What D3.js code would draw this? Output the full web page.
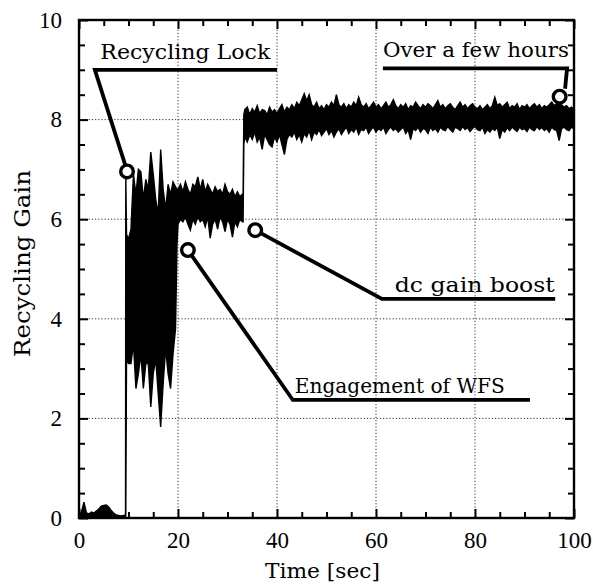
<!DOCTYPE html>
<html><head><meta charset="utf-8">
<script src="https://cdn.jsdelivr.net/npm/d3@7/dist/d3.min.js"></script>
<style>html,body{margin:0;padding:0;background:#fff;}svg{display:block;}</style>
</head><body>
<svg id="chart" width="593" height="586"></svg>
<script>
// ---- data ----
const xMajorTicks = [0, 20, 40, 60, 80, 100];
const yMajorTicks = [0, 2, 4, 6, 8, 10];
const xMinorTicks = [5,10,15,25,30,35,45,50,55,65,70,75,85,90,95];
const yMinorTicks = [0.5,1,1.5,2.5,3,3.5,4.5,5,5.5,6.5,7,7.5,8.5,9,9.5];
const xLabel = "Time [sec]";
const yLabel = "Recycling Gain";

// time samples [sec]
const timeSec = [
  0,0.5,1,1.5,2,2.5,3,3.5,4,4.5,5,5.5,6,6.5,7,7.5,8,8.5,9,9.4,
  9.45,9.6,10,10.5,11,11.5,12,12.5,13,13.5,14,14.5,15,15.5,16,16.5,17,17.5,18,18.5,19,19.5,19.8,
  20,20.5,21,21.5,22,22.5,23,23.5,24,24.5,25,25.5,26,26.5,27,27.5,28,28.5,29,29.5,30,30.5,31,31.5,32,32.5,33,33.15,33.3,
  33.5,34,34.5,35,35.5,36,36.5,37,37.5,38,38.5,39,39.5,40,40.5,41,41.5,42,42.5,43,43.5,44,44.5,45,45.5,46,46.5,47,47.5,48,48.5,49,49.5,
  50,50.5,51,51.5,52,52.5,53,53.5,54,54.5,55,55.5,56,56.5,57,57.5,58,58.5,59,59.5,60,60.5,61,61.5,62,62.5,63,63.5,64,64.5,65,65.5,66,66.5,
  67,67.5,68,68.5,69,69.5,70,70.5,71,71.5,72,72.5,73,73.5,74,74.5,75,75.5,76,76.5,77,77.5,78,78.5,79,79.5,80,80.5,81,81.5,82,82.5,83,83.5,
  84,84.5,85,85.5,86,86.5,87,87.5,88,88.5,89,89.5,90,90.5,91,91.5,92,92.5,93,93.5,94,94.5,95,95.5,96,96.5,97,97.5,98,98.5,99,99.5,100
];
// upper envelope of the recycling gain trace
const gainHigh = [
  0.05,0.12,0.32,0.10,0.08,0.12,0.10,0.14,0.18,0.24,0.25,0.26,0.22,0.15,0.10,0.06,0.05,0.04,0.05,0.06,
  6.90,5.70,5.60,5.80,6.90,6.50,7.00,6.95,6.40,6.80,6.60,7.35,6.90,6.40,6.10,7.40,6.60,6.20,6.70,6.50,6.75,6.65,6.60,
  6.60,6.70,6.55,6.75,6.60,6.50,6.70,6.65,6.85,6.60,6.80,6.55,6.70,6.60,6.50,6.65,6.55,6.60,6.50,6.70,6.55,6.50,6.60,6.45,6.55,6.45,6.50,6.50,8.10,
  8.20,8.25,8.10,8.22,8.15,8.28,8.12,8.20,8.18,8.10,8.25,8.15,8.20,8.12,8.22,8.30,8.15,8.25,8.20,8.30,8.22,8.35,8.28,8.40,8.52,8.38,8.50,8.30,8.25,8.35,8.22,8.28,8.20,
  8.30,8.25,8.35,8.28,8.50,8.30,8.25,8.32,8.22,8.30,8.25,8.35,8.28,8.45,8.30,8.25,8.32,8.22,8.28,8.35,8.25,8.30,8.22,8.28,8.35,8.25,8.30,8.40,8.28,8.22,8.30,8.25,8.32,8.20,
  8.28,8.25,8.35,8.28,8.22,8.30,8.25,8.32,8.28,8.22,8.30,8.38,8.25,8.30,8.22,8.28,8.32,8.25,8.20,8.28,8.35,8.25,8.30,8.22,8.28,8.32,8.25,8.22,8.28,8.20,8.25,8.30,8.22,8.28,
  8.45,8.28,8.32,8.25,8.30,8.35,8.22,8.28,8.25,8.32,8.20,8.28,8.25,8.30,8.22,8.28,8.32,8.25,8.30,8.22,8.28,8.25,8.30,8.35,8.28,8.32,8.40,8.30,8.25,8.28,8.22,8.25,8.20
];
// lower envelope of the recycling gain trace
const gainLow = [
  0,0,0,0,0,0,0,0,0,0,0,0,0,0,0,0,0,0,0,0,
  0,3.20,3.10,3.10,3.50,2.60,2.90,3.30,2.60,3.10,3.10,2.23,2.90,3.20,2.50,1.83,2.70,3.40,2.90,2.60,3.30,3.80,5.50,
  5.90,6.00,5.95,6.05,5.90,5.78,6.00,5.90,6.05,5.95,6.00,5.85,6.05,5.62,5.90,6.00,5.80,6.05,5.95,5.75,6.00,5.90,5.64,5.95,5.85,6.00,5.95,5.95,7.50,
  7.65,7.55,7.70,7.60,7.75,7.55,7.65,7.40,7.70,7.60,7.50,7.45,7.65,7.55,7.70,7.50,7.30,7.60,7.70,7.65,7.75,7.60,7.70,7.55,7.72,7.65,7.78,7.60,7.75,7.70,7.80,7.68,7.75,
  7.82,7.70,7.78,7.65,7.75,7.82,7.70,7.78,7.85,7.72,7.80,7.75,7.85,7.70,7.80,7.78,7.85,7.72,7.80,7.85,7.75,7.82,7.78,7.85,7.72,7.80,7.85,7.78,7.82,7.75,7.80,7.85,7.72,7.80,
  7.60,7.82,7.78,7.85,7.75,7.82,7.80,7.72,7.85,7.78,7.82,7.75,7.85,7.80,7.78,7.86,7.80,7.75,7.85,7.82,7.78,7.86,7.80,7.84,7.76,7.82,7.86,7.80,7.78,7.85,7.72,7.80,7.75,7.82,
  7.78,7.85,7.62,7.80,7.75,7.84,7.78,7.85,7.80,7.76,7.85,7.80,7.82,7.76,7.85,7.80,7.78,7.86,7.80,7.84,7.78,7.82,7.75,7.85,7.80,7.78,7.58,7.82,7.85,7.80,7.78,7.85,7.82
];

// annotation callouts
const calloutLabels = ["Recycling Lock", "Over a few hours", "dc gain boost", "Engagement of WFS"];
const calloutLabelPos = [[4.3, 9.22], [61.4, 9.25], [63.8, 4.54], [43.6, 2.52]];
const calloutLabelWidth = [170, 186, 160, 210];
const calloutPaths = [
  [[40.0, 9.0], [3.2, 9.0], [9.3, 7.1]],
  [[61.4, 9.03], [98.6, 9.03], [98.2, 8.62]],
  [[35.6, 5.78], [61.2, 4.40], [96.2, 4.40]],
  [[22.0, 5.38], [43.2, 2.37], [91.1, 2.37]]
];
const calloutCircles = [[9.7, 6.96], [97.1, 8.46], [35.6, 5.78], [22.0, 5.38]];

// ---- drawing ----
const svg = d3.select("#chart");
const m = {left: 79, right: 574, top: 20, bottom: 518};
const x = d3.scaleLinear().domain([0, 100]).range([m.left, m.right]);
const y = d3.scaleLinear().domain([0, 10]).range([m.bottom, m.top]);
const font = "'DejaVu Serif', serif";
const tickFont = "'Liberation Serif', serif";

// grid
const g = svg.append("g");
g.selectAll(".vg").data(xMajorTicks.filter(d => d > 0 && d < 100)).join("line")
  .attr("x1", d => x(d)).attr("x2", d => x(d)).attr("y1", m.top).attr("y2", m.bottom)
  .attr("stroke", "#333").attr("stroke-width", 1).attr("stroke-dasharray", "1.2,2");
g.selectAll(".hg").data(yMajorTicks.filter(d => d > 0 && d < 10)).join("line")
  .attr("y1", d => y(d)).attr("y2", d => y(d)).attr("x1", m.left).attr("x2", m.right)
  .attr("stroke", "#333").attr("stroke-width", 1).attr("stroke-dasharray", "1.2,2");

// trace (envelope band)
const pts = timeSec.map((t, i) => ({t, hi: gainHigh[i], lo: gainLow[i]}));
const area = d3.area().x(d => x(d.t)).y0(d => y(d.lo)).y1(d => y(d.hi));
svg.append("path").datum(pts).attr("d", area)
  .attr("fill", "#000").attr("stroke", "#000").attr("stroke-width", 1.4).attr("stroke-linejoin", "miter");

// axes with inward ticks
function styleAxis(sel) {
  sel.selectAll("path.domain").remove();
  sel.selectAll("line").attr("stroke", "#000").attr("stroke-width", 2);
  sel.selectAll("text").attr("font-family", tickFont).attr("font-size", 23).attr("fill", "#000");
}
svg.append("g").attr("transform", `translate(0,${m.bottom})`)
  .call(d3.axisBottom(x).tickValues(xMajorTicks).tickSize(-9).tickPadding(14).tickFormat(d3.format("d")))
  .call(styleAxis);
svg.append("g").attr("transform", `translate(0,${m.bottom})`)
  .call(d3.axisBottom(x).tickValues(xMinorTicks).tickSize(-6).tickFormat(""))
  .call(styleAxis);
svg.append("g").attr("transform", `translate(0,${m.top})`)
  .call(d3.axisTop(x).tickValues(xMajorTicks).tickSize(-9).tickFormat(""))
  .call(styleAxis);
svg.append("g").attr("transform", `translate(0,${m.top})`)
  .call(d3.axisTop(x).tickValues(xMinorTicks).tickSize(-6).tickFormat(""))
  .call(styleAxis);
svg.append("g").attr("transform", `translate(${m.left},0)`)
  .call(d3.axisLeft(y).tickValues(yMajorTicks).tickSize(-9).tickPadding(17).tickFormat(d3.format("d")))
  .call(styleAxis);
svg.append("g").attr("transform", `translate(${m.left},0)`)
  .call(d3.axisLeft(y).tickValues(yMinorTicks).tickSize(-6).tickFormat(""))
  .call(styleAxis);
svg.append("g").attr("transform", `translate(${m.right},0)`)
  .call(d3.axisRight(y).tickValues(yMajorTicks).tickSize(-9).tickFormat(""))
  .call(styleAxis);
svg.append("g").attr("transform", `translate(${m.right},0)`)
  .call(d3.axisRight(y).tickValues(yMinorTicks).tickSize(-6).tickFormat(""))
  .call(styleAxis);

// frame
svg.append("rect").attr("x", m.left).attr("y", m.top)
  .attr("width", m.right - m.left).attr("height", m.bottom - m.top)
  .attr("fill", "none").attr("stroke", "#000").attr("stroke-width", 2.4);

// axis titles
svg.append("text").attr("x", 265).attr("y", 578)
  .attr("font-family", font).attr("font-size", 21)
  .attr("textLength", 115).attr("lengthAdjust", "spacingAndGlyphs").text(xLabel);
svg.append("text").attr("transform", `translate(30,357) rotate(-90)`)
  .attr("font-family", font).attr("font-size", 22)
  .attr("textLength", 187).attr("lengthAdjust", "spacingAndGlyphs").text(yLabel);

// callouts
const line = d3.line().x(d => x(d[0])).y(d => y(d[1]));
svg.selectAll(".cp").data(calloutPaths).join("path")
  .attr("d", line).attr("fill", "none").attr("stroke", "#000").attr("stroke-width", 3.8)
  .attr("stroke-linejoin", "miter");
svg.selectAll(".cc").data(calloutCircles).join("circle")
  .attr("cx", d => x(d[0])).attr("cy", d => y(d[1])).attr("r", 6.3)
  .attr("fill", "#fff").attr("stroke", "#000").attr("stroke-width", 3.4);
svg.selectAll(".cl").data(calloutLabels).join("text")
  .attr("x", (d, i) => x(calloutLabelPos[i][0])).attr("y", (d, i) => y(calloutLabelPos[i][1]))
  .attr("font-family", font).attr("font-size", 21).attr("fill", "#000")
  .attr("textLength", (d, i) => calloutLabelWidth[i]).attr("lengthAdjust", "spacingAndGlyphs")
  .text(d => d);
</script>
</body></html>
